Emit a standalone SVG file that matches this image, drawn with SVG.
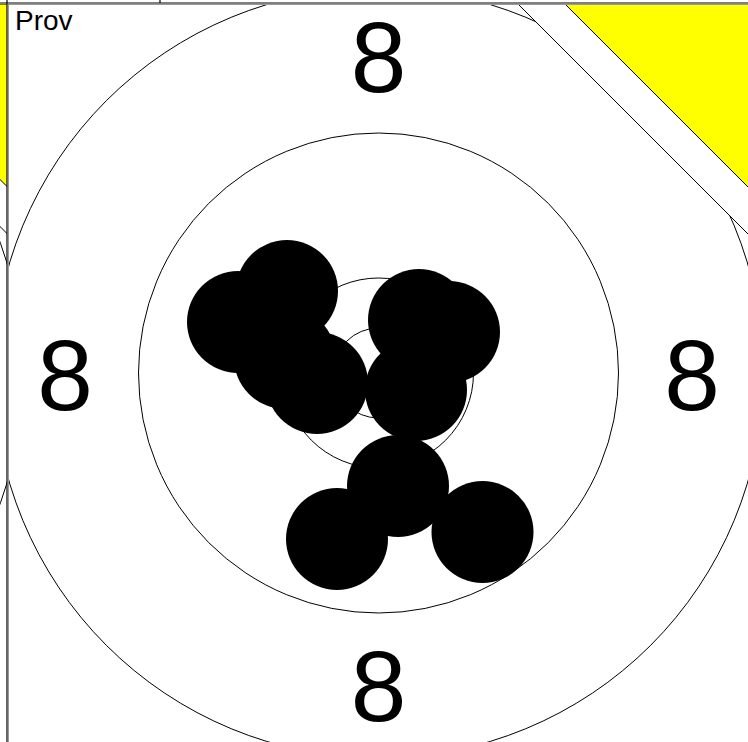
<svg xmlns="http://www.w3.org/2000/svg" xmlns:xlink="http://www.w3.org/1999/xlink" width="748" height="742" viewBox="0 0 748 742">
<defs>
<style>
.ring{fill:none;stroke:#000;stroke-width:1}
.shot{fill:#000}
.num{font-family:"Liberation Sans",Arial,sans-serif;font-size:100px;fill:#000;text-anchor:middle}
.lbl{font-family:"Liberation Sans",Arial,sans-serif;font-size:28px;fill:#000}
.band{fill:#fff;stroke:#000;stroke-width:1}
.corner{fill:#ffff00;stroke:#000;stroke-width:1}
</style>
<clipPath id="panelClip"><rect x="8" y="4" width="740" height="738"/></clipPath>
<clipPath id="leftClip"><rect x="0" y="4" width="7" height="738"/></clipPath>
<g id="targetBase">
<circle class="ring" cx="378.5" cy="373" r="385"/>
<circle class="ring" cx="378.5" cy="373" r="240"/>
<circle class="ring" cx="378.5" cy="373" r="95"/>
<circle class="ring" cx="378.5" cy="373" r="45"/>
<polygon class="band" points="518,4 760,4 760,246"/>
<polygon class="corner" points="565,4 760,4 760,199"/>
</g>
</defs>
<rect x="0" y="0" width="748" height="742" fill="#fff"/>
<g id="neighbor" clip-path="url(#leftClip)">
<use xlink:href="#targetBase" href="#targetBase" transform="translate(-740.5 0)"/>
</g>
<g id="target" clip-path="url(#panelClip)">
<use xlink:href="#targetBase" href="#targetBase"/>
<g id="shots">
<circle class="shot" cx="287" cy="291" r="51"/>
<circle class="shot" cx="238" cy="322" r="51"/>
<circle class="shot" cx="285" cy="358" r="51"/>
<circle class="shot" cx="317" cy="383" r="51"/>
<circle class="shot" cx="419" cy="320" r="51"/>
<circle class="shot" cx="449" cy="332" r="51"/>
<circle class="shot" cx="416" cy="390" r="51"/>
<circle class="shot" cx="398" cy="486" r="51"/>
<circle class="shot" cx="337" cy="539" r="51"/>
<circle class="shot" cx="482.5" cy="532" r="51"/>
</g>
</g>
<g id="labels">
<text class="num" x="378.5" y="92">8</text>
<text class="num" x="378.5" y="721">8</text>
<text class="num" x="65" y="410">8</text>
<text class="num" x="692" y="410">8</text>
</g>
<g id="frame">
<line x1="0" y1="3" x2="748" y2="3" stroke="#000" stroke-width="1.2"/>
<line x1="8" y1="4.5" x2="748" y2="4.5" stroke="#999" stroke-width="1"/>
<line x1="7" y1="0" x2="7" y2="742" stroke="#000" stroke-width="1.2"/>
<line x1="8.5" y1="4" x2="8.5" y2="742" stroke="#999" stroke-width="1"/>
<line x1="160" y1="0" x2="160" y2="3" stroke="#000" stroke-width="1.2"/>
</g>
<text class="lbl" x="15" y="30">Prov</text>
</svg>
